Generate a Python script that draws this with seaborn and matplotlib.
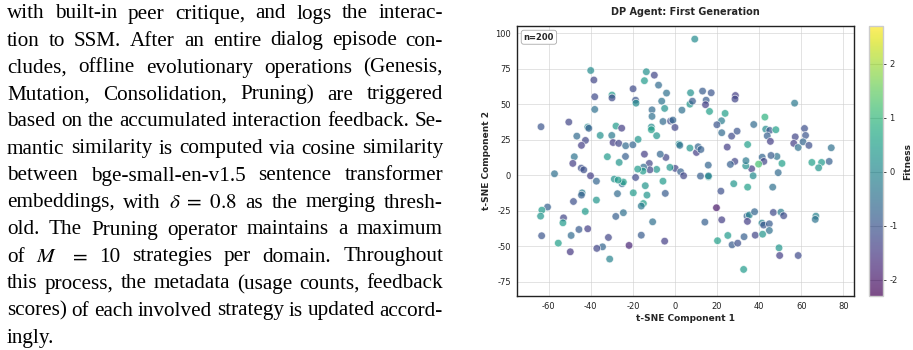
import re
import matplotlib
matplotlib.use('Agg')
import matplotlib.pyplot as plt
import pandas as pd
import seaborn as sns

# t-SNE coordinates and fitness
tsne_x = [-63.6, -57.2, -50.4, -40.0, -38.5, -38.1, -38.1, -46.6, -41.4, -40.9,
          -47.8, -48.5, -42.5, -44.4, -44.5, -43.3, -40.1, -37.3, -35.5, -32.1,
          -30.0, -29.9, -29.9, -29.4, -28.0, -26.7, -25.3, -26.5, -23.4, -23.5,
          -20.0, -17.5, -19.9, -18.7, -18.5, -13.6, -14.5, -9.8, -7.8, -10.9,
          -10.9, -11.2, -11.2, -8.7, -6.3, -4.9, -5.7, -4.0, -2.1, -1.0,
          0.0, 3.3, 7.1, 8.3, 7.4, 13.1, 14.8, 14.5, 17.2, 16.4,
          23.8, 22.1, 19.9, 28.7, 28.5, 22.2, 26.9, 29.5, 37.4, 24.8,
          34.5, 42.7, 43.1, 45.0, 43.8, 45.3, 47.9, 56.8, 61.5, 62.0,
          57.1, 56.4, 58.5, 60.8, 63.6, 74.2, 73.2, 69.6, 68.2, 65.0,
          50.8, 48.4, 45.6, 41.4, 42.2, 39.7, 36.4, 33.6, 33.7, 37.1,
          28.4, 26.3, 34.5, 27.9, 49.0, 46.4, 21.8, 15.8, 15.9, 15.9,
          12.1, 10.2, 11.0, 12.3, 7.1, 1.9, 2.3, 0.1, 2.7, 4.1,
          -2.4, -4.3, -7.0, -8.7, -12.2, -11.9, -14.5, -14.9, -15.2, -17.7,
          -18.7, -14.1, -13.3, -19.8, -15.0, -16.0, -10.6, -16.0, -21.8, -24.5,
          -25.1, -24.5, -27.3, -28.8, -27.0, -28.1, -31.6, -31.0, -34.4, -37.1,
          -37.3, -42.6, -44.1, -44.4, -41.4, -45.6, -48.2, -49.3, -49.7, -52.9,
          -53.2, -55.4, -60.5, -63.2, -63.8, -63.3, -4.9, -4.6, -5.7, 14.2,
          19.7, 22.2, 20.2, 25.1, 27.1, 29.8, 32.8, 34.2, 35.3, 34.4,
          37.8, 38.1, 32.6, 41.3, 42.1, 44.8, 44.8, 41.6, 46.7, 50.3,
          51.6, 49.4, 49.7, 58.5, 66.9, 66.6, 9.4]
tsne_y = [34.1, 1.0, 37.4, 73.7, 67.0, 55.2, 46.3, 27.5, 33.9, 33.0,
          13.0, 8.3, 24.5, 21.0, 5.0, 3.8, -0.4, -4.2, 28.0, 13.0,
          28.0, 56.4, 54.4, 23.0, 34.6, 22.4, 33.1, 9.0, 20.7, 13.2,
          21.4, 25.2, 60.8, 52.8, 50.7, 72.8, 66.5, 70.4, 63.4, 46.0,
          41.4, 33.9, 32.0, 27.8, 52.1, 47.0, 37.8, 57.8, 38.1, 38.8,
          33.6, 45.8, 50.0, 52.1, 58.0, 59.2, 52.8, 49.6, 58.0, 44.9,
          43.5, 38.3, 35.5, 56.1, 53.6, 29.9, 27.5, 31.0, 35.7, 19.8,
          21.6, 40.9, 32.4, 31.5, 27.7, 23.8, 32.0, 50.7, 32.9, 28.0,
          27.0, 22.4, 19.5, 23.5, 21.0, 19.3, 9.7, 9.0, 5.2, 9.0,
          8.3, 13.2, 13.9, 12.7, 9.7, 7.8, 4.5, 6.6, 10.2, -0.4,
          9.7, 7.6, -8.4, -6.0, 1.8, -8.4, -11.2, 7.1, -1.1, -0.5,
          -0.6, 16.0, 20.0, 18.1, 19.1, 21.9, 21.0, 4.8, 2.4, -0.4,
          5.5, 12.5, 14.8, 4.1, 8.3, 3.8, 14.8, 5.7, 2.9, 4.3,
          -1.6, -7.4, -14.0, -12.4, -19.9, -21.7, -32.8, -42.2, -49.4, -26.4,
          -6.0, -4.8, -13.0, -2.7, -3.4, -29.0, -43.8, -59.0, -50.4, -51.5,
          -17.5, -25.5, -12.4, -14.0, -37.7, -38.2, -18.5, -42.4, -53.9, -30.0,
          -33.5, -47.8, -22.4, -24.6, -28.8, -42.6, -46.4, -12.8, -4.2, -33.0,
          -22.9, -31.4, -46.1, -42.4, -49.0, -47.8, -43.3, -28.8, -28.0, -32.5,
          -25.7, -42.2, -66.3, -33.7, -35.1, -34.2, -38.9, -41.5, -26.2, -26.0,
          -28.5, -51.1, -56.5, -56.5, -28.8, -31.1, 95.8]
fitness = [-1.0, -0.5, -1.3, 0.1, -1.3, -1.2, -0.5, -0.6, 0.1, -0.8,
           -0.4, -1.4, -1.3, -1.4, -1.1, -1.1, -1.4, -0.7, 0.2, 0.4,
           -0.3, 0.4, -1.2, -1.4, 0.4, -1.3, -1.4, 0.3, -0.6, -0.8,
           -0.7, 0.3, -1.2, -1.0, 0.1, 0.2, 0.4, -1.3, -0.6, -0.6,
           -0.5, 0.1, 0.5, 0.3, -0.4, 0.2, -0.6, -0.5, -1.2, -0.7,
           -1.3, -0.5, 0.3, -0.9, 0.2, -0.9, -0.9, -1.4, -1.0, 0.5,
           0.5, -0.2, -1.0, -1.4, -1.3, -0.6, -1.2, -1.0, -0.6, -1.4,
           0.5, 0.9, 0.1, -1.0, -0.8, -1.4, 0.5, -0.3, -1.1, -1.0,
           -1.3, -1.4, -0.5, -0.7, -1.1, -0.5, -0.8, 0.4, 0.3, 0.5,
           0.5, -0.4, -0.9, -0.7, -1.3, 1.2, -1.4, 0.2, -0.3, 0.1,
           -1.3, -0.8, 0.5, 0.3, -0.6, -0.5, -1.1, -0.7, 0.4, -0.2,
           -0.8, -1.4, -0.7, -0.8, 0.3, 0.2, -0.5, -1.3, -0.8, -1.3,
           0.3, -1.3, -0.7, 0.3, -1.3, -1.3, -1.4, -0.6, 0.4, 0.4,
           -1.2, 0.3, 0.3, 0.4, 0.5, -0.3, -0.5, -0.9, -1.8, -0.5,
           -0.6, 0.5, -0.6, 0.2, 0.4, -0.8, -1.3, -0.1, -0.7, -1.3,
           0.3, 0.4, -0.2, -0.8, -1.4, -0.9, -1.1, -0.6, -1.5, -1.3,
           0.4, 0.5, -0.8, 0.4, 0.3, -1.0, -1.4, -0.9, 0.4, -0.8,
           -2.0, -1.4, 0.5, 0.4, -0.9, -1.1, -0.8, -0.7, -0.1, -1.4,
           -0.7, -1.3, 0.4, -0.1, -1.0, -0.9, -0.5, 0.3, -1.2, -0.2,
           -1.2, 0.3, -1.4, -1.2, -0.1, -0.4, 0.1]

x_ticks = [-60, -40, -20, 0, 20, 40, 60, 80]
y_ticks = [-75, -50, -25, 0, 25, 50, 75, 100]
cbar_ticks = [-2, -1, 0, 1, 2]

# paragraph on the left side of the page
text_lines = [
    "with built-in peer critique, and logs the interac-",
    "tion to SSM. After an entire dialog episode con-",
    "cludes, offline evolutionary operations (Genesis,",
    "Mutation, Consolidation, Pruning) are triggered",
    "based on the accumulated interaction feedback. Se-",
    "mantic similarity is computed via cosine similarity",
    "between bge-small-en-v1.5 sentence transformer",
    r"embeddings, with $\delta\ =\ 0.8$ as the merging thresh-",
    "old. The Pruning operator maintains a maximum",
    "of $M$ $=$ 10 strategies per domain.  Throughout",
    "this process, the metadata (usage counts, feedback",
    "scores) of each involved strategy is updated accord-",
    "ingly.",
]

sns.set_style('whitegrid')
plt.rcParams['font.family'] = ['DejaVu Sans']
plt.rcParams['axes.unicode_minus'] = False
plt.rcParams['mathtext.fontset'] = 'stix'

W, H = 913, 350
fig = plt.figure(figsize=(W / 100, H / 100), dpi=100)
ax = fig.add_axes([517 / W, 1 - 296 / H, 337 / W, 270 / H])
cax = fig.add_axes([869 / W, 1 - 296 / H, 14 / W, 270 / H])

df = pd.DataFrame({'x': tsne_x, 'y': tsne_y, 'fitness': fitness})
norm = plt.Normalize(-2.3, 2.7)
sns.scatterplot(data=df, x='x', y='y', hue='fitness', palette='viridis',
                hue_norm=norm, s=30, alpha=0.7, edgecolor='white',
                linewidth=0.6, legend=False, ax=ax)

ax.set_xlim(-75, 85)
ax.set_ylim(-85, 105)
ax.set_xticks(x_ticks)
ax.set_yticks(y_ticks)
ax.grid(True, color='#d0d0d0', linewidth=0.6, alpha=0.7)
ax.tick_params(labelsize=6, length=2.5, width=0.6, pad=2, colors='#222222')
for sp in ax.spines.values():
    sp.set_color('#222222')
    sp.set_linewidth(1.0)
ax.set_title('DP Agent: First Generation', fontsize=7, fontweight='bold', pad=8)
ax.set_xlabel('t-SNE Component 1', fontsize=6.5, fontweight='bold', labelpad=2)
ax.set_ylabel('t-SNE Component 2', fontsize=6.5, fontweight='bold', labelpad=3)
ax.text(0.02, 0.975, 'n=200', transform=ax.transAxes, fontsize=6, fontweight='bold',
        va='top', ha='left',
        bbox=dict(boxstyle='round,pad=0.3', facecolor='white', edgecolor='#aaaaaa', linewidth=0.6))

sm = plt.cm.ScalarMappable(norm=norm, cmap='viridis')
cb = fig.colorbar(sm, cax=cax, alpha=0.7)
cb.set_ticks(cbar_ticks)
cb.ax.tick_params(labelsize=6, length=2.5, width=0.6, pad=2)
cb.outline.set_linewidth(1.0)
cb.set_label('Fitness', fontsize=6.5, fontweight='bold', labelpad=4)

# justified paragraph
renderer = fig.canvas.get_renderer()
left, right = 7, 443
for i, line in enumerate(text_lines):
    words = re.findall(r'\$[^$]*\$|\S+', line)
    y = 1 - (18.5 + 27 * i) / H
    items = [fig.text(0, y, w, fontsize=15.2, family='Liberation Serif',
                      color='black', va='baseline') for w in words]
    widths = [t.get_window_extent(renderer).width for t in items]
    if i == len(text_lines) - 1:
        gap = 5
    else:
        gap = (right - left - sum(widths)) / max(len(words) - 1, 1)
    x = left
    for t, wd in zip(items, widths):
        t.set_x(x / W)
        x += wd + gap

fig.savefig('out.png', dpi=100)
